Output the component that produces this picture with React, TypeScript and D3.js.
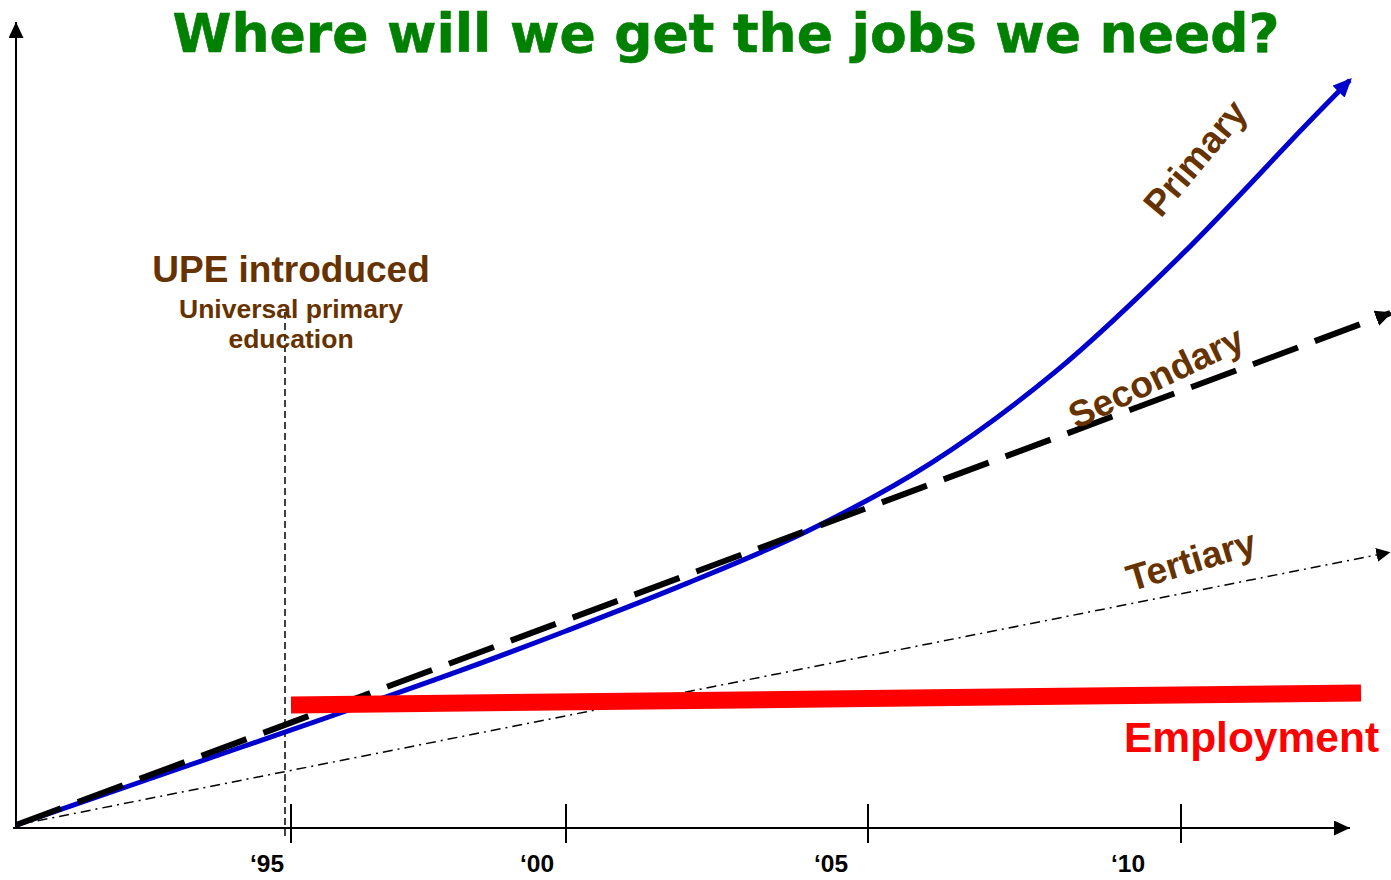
import React from "react";
import * as d3 from "d3";

// ---- data ----
const primaryYears = [1990, 1992, 1994, 1996, 1998, 2000, 2002, 2004, 2006, 2008, 2010, 2012, 2012.7];
const primaryValues = [0, 4.75, 9.5, 14.25, 19.1, 24.25, 30.2, 36.75, 45.2, 56.7, 71.2, 87.5, 93.1];
const secondaryYears = [1990, 2013.35];
const secondaryValues = [0, 64];
const tertiaryYears = [1990, 2013.35];
const tertiaryValues = [0, 34.1];
const employmentYears = [1995, 2012.88];
const employmentValues = [15, 16.5];
const tickYears = [1995, 2000, 2005, 2010];
const tickLabels = ["\u201895", "\u201800", "\u201805", "\u201810"];
const upeYear = 1995;

// ---- styles ----
const tickLabelDx = [-24, -29, -37, -53];
const BROWN = "#663300";
const FONT = "'Liberation Sans', Arial, sans-serif";

const W = 1391;
const H = 880;

export default function App() {
  const x = d3
    .scaleLinear()
    .domain([1990, 1995, 2000, 2005, 2010, 2014])
    .range([16, 291, 566, 868, 1181, 1431]);
  const y = d3.scaleLinear().domain([0, 100]).range([825, 25]);
  const axisY = y(0) + 3;

  const toPts = (xs: number[], vs: number[]) => xs.map((t, i) => [t, vs[i]] as [number, number]);
  const line = d3
    .line<[number, number]>()
    .x((d) => x(d[0]))
    .y((d) => y(d[1]));
  const curve = d3
    .line<[number, number]>()
    .x((d) => x(d[0]))
    .y((d) => y(d[1]))
    .curve(d3.curveCatmullRom.alpha(0.5));

  const marker = (id: string, L: number, hw: number, color: string, back = 3) => (
    <marker
      id={id}
      markerUnits="userSpaceOnUse"
      markerWidth={L}
      markerHeight={hw * 2}
      viewBox={`0 0 ${L} ${hw * 2}`}
      refX={L - back}
      refY={hw}
      orient="auto"
    >
      <path d={`M0,0 L${L},${hw} L0,${hw * 2} Z`} fill={color} />
    </marker>
  );

  return (
    <svg
      width={W}
      height={H}
      style={{ position: "absolute", left: 0, top: 0, background: "#fff" }}
      fontFamily={FONT}
    >
      <defs>
        {marker("arrAxis", 16, 7.5, "#000", 0)}
        {marker("arrBlue", 19, 8.5, "#0000cc", 3)}
        {marker("arrSec", 17, 8, "#000", 2)}
        {marker("arrTer", 14, 7, "#000", 0)}
      </defs>

      {/* title */}
      <text
        x={726}
        y={52}
        textAnchor="middle"
        fontFamily="'DejaVu Sans', Verdana, sans-serif"
        fontWeight="bold"
        fontSize={53}
        fill="#008000"
        stroke="#008000"
        strokeWidth={0.6}
        textLength={1107}
        lengthAdjust="spacingAndGlyphs"
      >
        Where will we get the jobs we need?
      </text>

      {/* axes */}
      <line x1={x(1990)} y1={axisY} x2={x(1990)} y2={22} stroke="#000" strokeWidth={2} markerEnd="url(#arrAxis)" />
      <line x1={x(1990) - 3} y1={axisY} x2={1350} y2={axisY} stroke="#000" strokeWidth={2} markerEnd="url(#arrAxis)" />
      {tickYears.map((t, i) => (
        <g key={t}>
          <line x1={x(t)} x2={x(t)} y1={axisY - 24} y2={axisY + 15} stroke="#000" strokeWidth={2} />
          <text
            x={x(t) + tickLabelDx[i]}
            y={872}
            textAnchor="middle"
            fontWeight="bold"
            fontSize={24.5}
            fill="#000"
          >
            {tickLabels[i]}
          </text>
        </g>
      ))}

      {/* UPE marker line */}
      <line
        x1={x(upeYear) - 6}
        x2={x(upeYear) - 6}
        y1={312}
        y2={axisY + 12}
        stroke="#000"
        strokeWidth={1.5}
        strokeDasharray="7 4"
      />

      {/* tertiary */}
      <path
        d={line(toPts(tertiaryYears, tertiaryValues)) || ""}
        fill="none"
        stroke="#000"
        strokeWidth={1.5}
        strokeDasharray="10 5 2 5"
        markerEnd="url(#arrTer)"
      />

      {/* primary */}
      <path
        d={curve(toPts(primaryYears, primaryValues)) || ""}
        fill="none"
        stroke="#0000cc"
        strokeWidth={5}
        markerEnd="url(#arrBlue)"
      />

      {/* secondary */}
      <path
        d={line(toPts(secondaryYears, secondaryValues)) || ""}
        fill="none"
        stroke="#000"
        strokeWidth={6}
        strokeDasharray="48 18"
        markerEnd="url(#arrSec)"
      />

      {/* employment */}
      <path
        d={line(toPts(employmentYears, employmentValues)) || ""}
        fill="none"
        stroke="#ff0000"
        strokeWidth={17}
      />

      {/* annotations */}
      <text x={291} y={282} textAnchor="middle" fontWeight="bold" fontSize={37} fill={BROWN}>
        UPE introduced
      </text>
      <text x={291} y={318} textAnchor="middle" fontWeight="bold" fontSize={26.5} fill={BROWN}>
        Universal primary
      </text>
      <text x={291} y={348} textAnchor="middle" fontWeight="bold" fontSize={26.5} fill={BROWN}>
        education
      </text>

      <text
        transform="translate(1195,158) rotate(-50)"
        textAnchor="middle"
        dy="0.35em"
        fontWeight="bold"
        fontSize={37}
        fill={BROWN}
      >
        Primary
      </text>
      <text
        transform="translate(1156,377) rotate(-25.6)"
        textAnchor="middle"
        dy="0.35em"
        fontWeight="bold"
        fontSize={37}
        fill={BROWN}
      >
        Secondary
      </text>
      <text
        transform="translate(1191,560) rotate(-16.7)"
        textAnchor="middle"
        dy="0.35em"
        fontWeight="bold"
        fontSize={37}
        fill={BROWN}
      >
        Tertiary
      </text>

      <text x={1124} y={752} fontWeight="bold" fontSize={42.5} fill="#ff0000">
        Employment
      </text>
    </svg>
  );
}
